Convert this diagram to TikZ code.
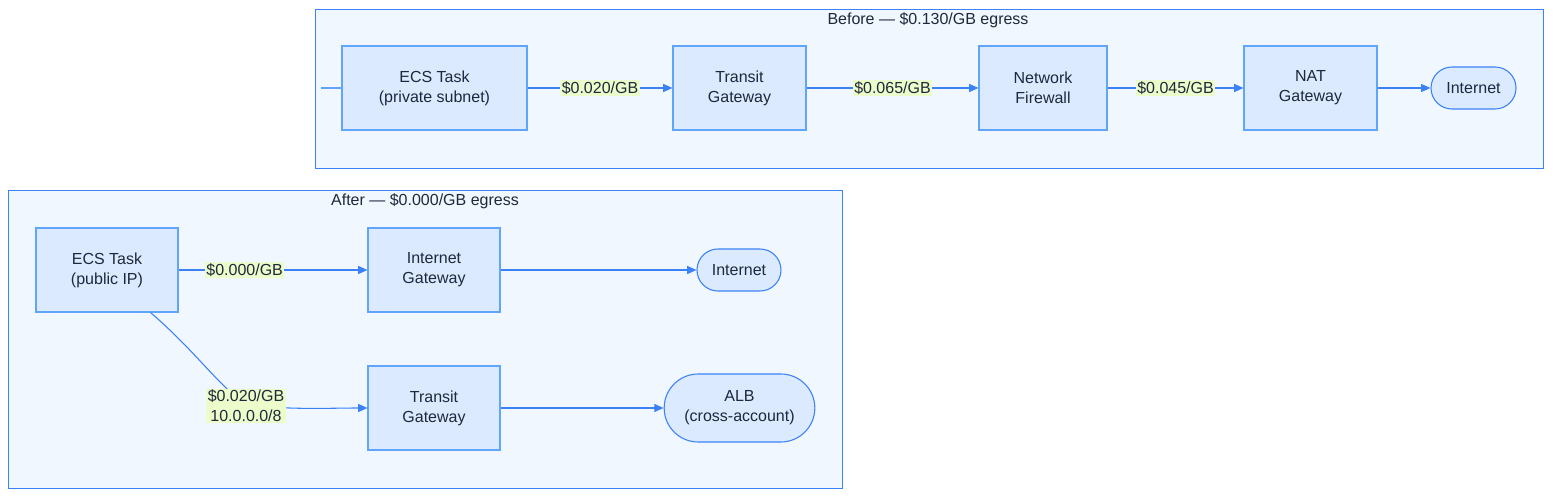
\documentclass[tikz,border=0pt]{standalone}
\usepackage{fontspec}
\setmainfont{Liberation Sans}
\usetikzlibrary{arrows.meta,shapes.misc}
\definecolor{cbg}{HTML}{F0F7FF}
\definecolor{cbd}{HTML}{3B82F6}
\definecolor{nbg}{HTML}{DBEAFE}
\definecolor{nbd}{HTML}{60A5FA}
\definecolor{txt}{HTML}{1E293B}
\definecolor{lbg}{HTML}{ECFCCB}
\begin{document}
\begin{tikzpicture}[x=0.75pt,y=-0.75pt,font=\fontsize{12}{15}\selectfont,text=txt,
 clus/.style={draw=cbd,fill=cbg,line width=0.6pt},
 box/.style={draw=nbd,fill=nbg,line width=0.8pt,align=center,inner sep=0pt},
 pill/.style={draw=cbd,fill=nbg,line width=0.8pt,align=center,rounded rectangle,inner sep=0pt},
 lab/.style={fill=lbg,align=center,inner sep=1pt},
 ed/.style={draw=cbd,line width=0.8pt,-{Triangle[length=7pt,width=6pt]}}]
\useasboundingbox (0,0) rectangle (1568,502);
\draw[clus] (315,9) rectangle (1543,168);
\node (t1) at (928,20) {Before — \$0.130/GB egress};
\draw[clus] (8,190) rectangle (842,488);
\node (t2) at (425,201) {After — \$0.000/GB egress};
\node[box,minimum width=185\pgflinewidth,text width=170pt] (a1) at (434.5,88) {};
\node[box,minimum width=138.75pt,minimum height=63pt] (a1) at (434.5,88) {ECS Task\\(private subnet)};
\node[box,minimum width=99.75pt,minimum height=63pt] (a2) at (739.5,88) {Transit\\Gateway};
\node[box,minimum width=96pt,minimum height=63pt] (a3) at (1043,88) {Network\\Firewall};
\node[box,minimum width=99.75pt,minimum height=63pt] (a4) at (1310.5,88) {NAT\\Gateway};
\node[pill,minimum width=63.75pt,minimum height=31.5pt] (a5) at (1473.5,88) {Internet};
\draw[ed] (a1) -- node[lab] {\$0.020/GB} (a2);
\draw[ed] (a2) -- node[lab] {\$0.065/GB} (a3);
\draw[ed] (a3) -- node[lab] {\$0.045/GB} (a4);
\draw[ed] (a4) -- (a5);
\node[box,minimum width=106.5pt,minimum height=63pt] (b1) at (107,270) {ECS Task\\(public IP)};
\node[box,minimum width=99pt,minimum height=63pt] (b2) at (434,270) {Internet\\Gateway};
\node[pill,minimum width=63pt,minimum height=31.5pt] (b3) at (739,270) {Internet};
\node[box,minimum width=99pt,minimum height=63pt] (b4) at (434,408) {Transit\\Gateway};
\node[pill,minimum width=113pt,minimum height=51pt] (b5) at (739.5,408) {ALB\\(cross-account)};
\draw[ed] (b1) -- node[lab,pos=0.35] {\$0.000/GB} (b2);
\draw[ed] (b2) -- (b3);
\coordinate (m) at (246,406);
\draw[ed] (b1.south east) ++(-28,0) .. controls (200,355) and (225,395) .. (250,405) .. controls (290,410) and (330,408) .. (b4.west);
\node[lab] (l2) at (m) {\$0.020/GB\\10.0.0.0/8};
\draw[ed] (b4) -- (b5);
\end{tikzpicture}
\end{document}
